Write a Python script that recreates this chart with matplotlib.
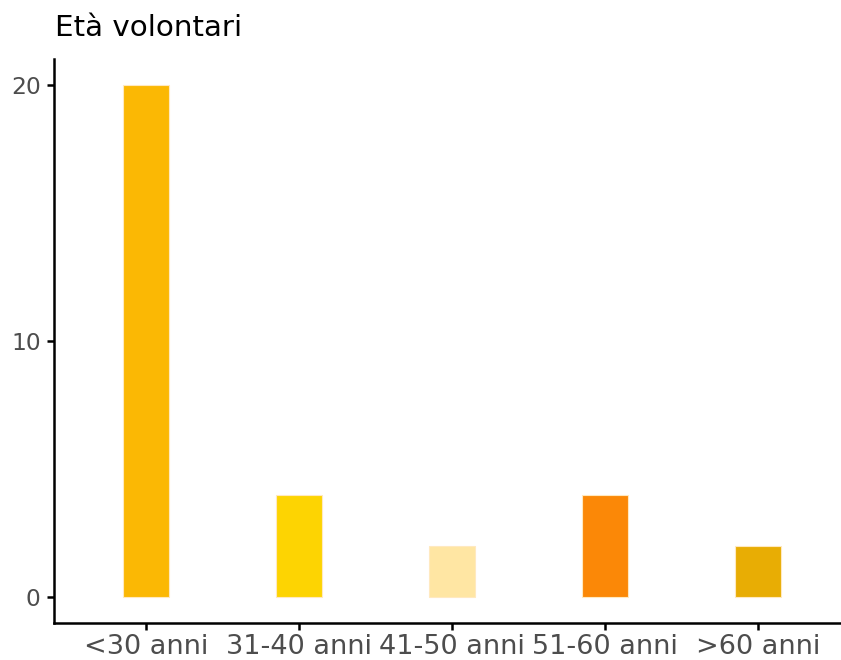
import matplotlib
matplotlib.use("Agg")
import matplotlib.pyplot as plt

categories = ["<30 anni", "31-40 anni", "41-50 anni", "51-60 anni", ">60 anni"]
values = [20, 4, 2, 4, 2]
colors = ["#FBB804", "#FDD402", "#FFE6A3", "#FB8807", "#E8AD04"]
title = "Età volontari"

fig = plt.figure(figsize=(8.41, 6.6), dpi=100)
ax = fig.add_axes([54.5/841, 1-622.6/660, (850-54.5)/841, (622.6-59.4)/660])
pos = list(range(1, len(categories)+1))
ax.bar(pos, values, width=0.3, color=colors, edgecolor="#FFE9C0", linewidth=0.8)
ax.set_xlim(0.4, 5.6)
ax.set_ylim(-1, 21)
ax.set_xticks(pos)
ax.set_xticklabels(categories)
ax.set_yticks([0, 10, 20])
for s in ["top", "right"]:
    ax.spines[s].set_visible(False)
for s in ["left", "bottom"]:
    ax.spines[s].set_linewidth(1.8)
ax.tick_params(axis="both", labelcolor="#4D4D4D", length=5, width=1.8)
ax.tick_params(axis="y", labelsize=16.8, pad=5)
ax.tick_params(axis="x", labelsize=19.5, pad=3)
fig.text(55/841, 1-28/660, title, fontsize=21.2, ha="left", va="center", color="black")
fig.savefig("out.png", dpi=100)
